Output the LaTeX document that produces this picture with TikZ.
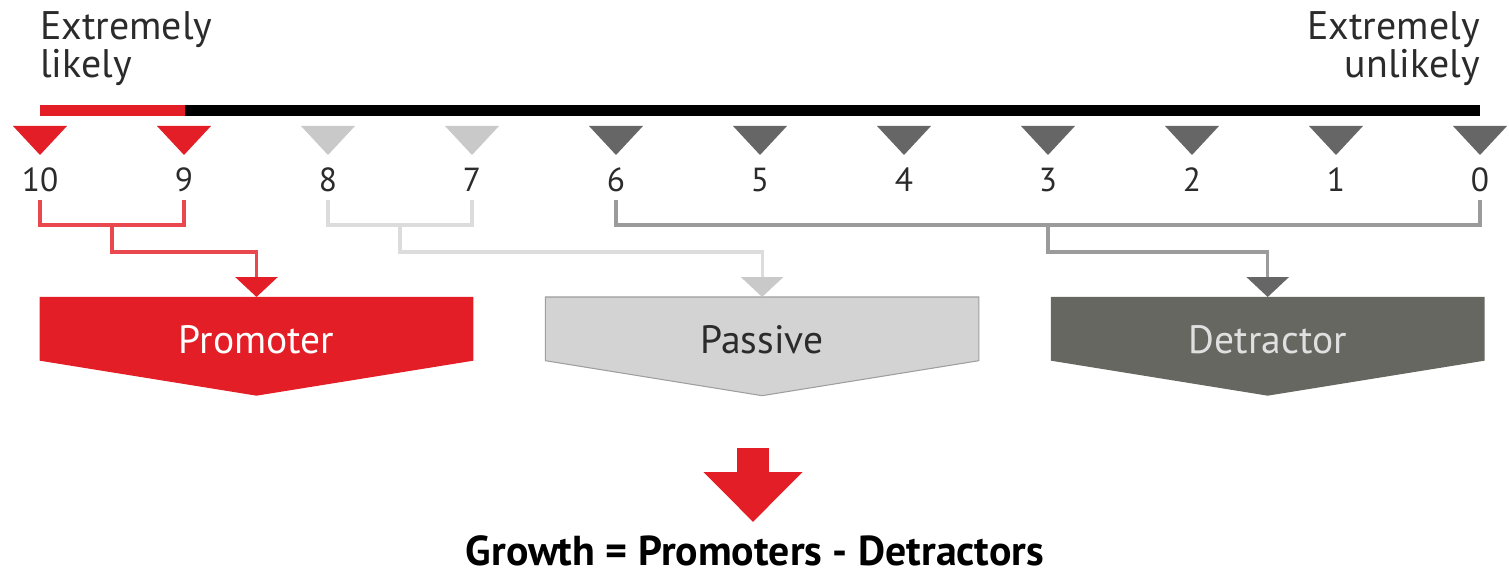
\documentclass[tikz,border=0pt]{standalone}
\usepackage{fontspec}
\setmainfont{PT Sans}
\usetikzlibrary{arrows.meta, calc, positioning, backgrounds}

\definecolor{promored}{HTML}{E41E26}
\definecolor{promoline}{HTML}{E9484E}
\definecolor{passtri}{HTML}{C9C9C9}
\definecolor{passline}{HTML}{DCDCDC}
\definecolor{passfill}{HTML}{D3D3D3}
\definecolor{passdraw}{HTML}{9E9E9E}
\definecolor{dettri}{HTML}{666666}
\definecolor{detline}{HTML}{9B9B9B}
\definecolor{detfill}{HTML}{676762}
\definecolor{numgrey}{HTML}{2B2B2B}

\begin{document}
\begin{tikzpicture}[
    x=0.02cm, y=-0.02cm,
    lbl/.style={font=\fontsize{22.7}{18.8}\selectfont, text=numgrey, inner sep=0pt},
    num/.style={font=\fontsize{19}{19}\selectfont, text=numgrey, inner sep=0pt, anchor=base},
    scorebox/.style={minimum width=8.66cm, inner sep=0pt, text height=1.12cm, text depth=0.14cm, font=\fontsize{22.5}{22.5}\selectfont},
    bracket/.style={line width=1.8pt},
    feed/.style={bracket, -{Triangle[width=0.84cm, length=0.4cm, color=#1]}},
    bigarrow/.style={promored, line width=0.64cm, -{Triangle[width=1.92cm, length=1cm]}}
]
    \useasboundingbox (0,0) rectangle (1509,577);

    % end labels
    \node[lbl, anchor=base west, align=left] (likely) at (40,78) {Extremely\\likely};
    \node[lbl, anchor=base east, align=right] (unlikely) at (1480,78) {Extremely\\unlikely};

    % scale bar
    \draw[line width=0.22cm, black] (185,111) -- (1480,111);
    \draw[line width=0.22cm, promored] (40,111) -- (185,111);

    % ticks and scores
    \foreach \n/\c in {10/promored,9/promored,8/passtri,7/passtri,6/dettri,5/dettri,4/dettri,3/dettri,2/dettri,1/dettri,0/dettri} {
        \coordinate (t\n) at ({40+(10-\n)*144},126);
        \fill[\c] (t\n) ++(-27,0) -- ++(54,0) -- ++(-27,29) -- cycle;
        \node[num] (num\n) at ({40+(10-\n)*144},192) {\n};
        \coordinate (b\n) at ({40+(10-\n)*144},200);
    }

    % category boxes
    \node[scorebox, text=white, anchor=north] (promo) at (256.5,297) {Promoter};
    \node[scorebox, text=numgrey, right=1.44cm of promo] (pass) {Passive};
    \node[scorebox, text=white!88!black, right=1.44cm of pass] (detr) {Detractor};
    \begin{scope}[on background layer]
        \fill[promored] (promo.north west) -- (promo.north east) -- (promo.south east)
            -- ([yshift=-0.7cm]promo.south) -- (promo.south west) -- cycle;
        \filldraw[fill=passfill, draw=passdraw, line width=0.6pt] (pass.north west) -- (pass.north east) -- (pass.south east)
            -- ([yshift=-0.7cm]pass.south) -- (pass.south west) -- cycle;
        \fill[detfill] (detr.north west) -- (detr.north east) -- (detr.south east)
            -- ([yshift=-0.7cm]detr.south) -- (detr.south west) -- cycle;
    \end{scope}

    % brackets
    \draw[bracket, promoline] (b10) -- ++(0,25) -| (b9);
    \draw[feed=promored, promoline] ($(b10)!0.5!(b9)+(0,25)$) -- ++(0,27) -| (promo.north);
    \draw[bracket, passline] (b8) -- ++(0,25) -| (b7);
    \draw[feed=passtri, passline] ($(b8)!0.5!(b7)+(0,25)$) -- ++(0,27) -| (pass.north);
    \draw[bracket, detline] (b6) -- ++(0,25) -| (b0);
    \draw[feed=dettri, detline] ($(b3)+(0,25)$) -- ++(0,27) -| (detr.north);

    % result
    \coordinate (gtop) at (753,448);
    \coordinate (gtip) at (753,522);
    \draw[bigarrow] (gtop) -- (gtip);
    \node[font=\bfseries\fontsize{23.8}{23.8}\selectfont, anchor=base] (growth) at (755,566) {Growth = Promoters - Detractors};
\end{tikzpicture}
\end{document}
